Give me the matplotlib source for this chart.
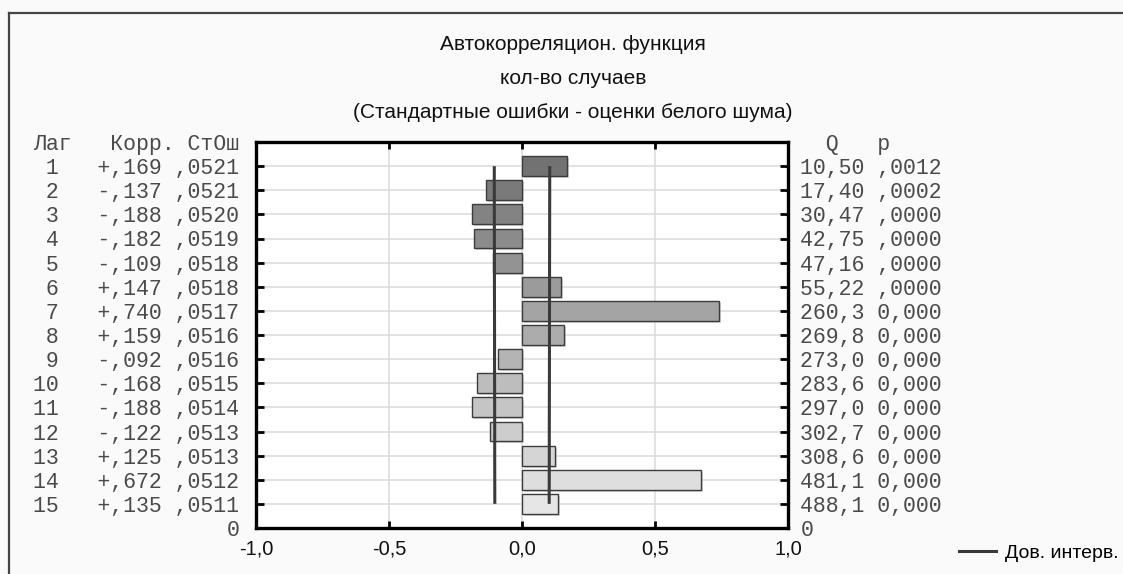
import matplotlib
matplotlib.use("Agg")
import matplotlib.pyplot as plt
import matplotlib.patheffects as pe
from matplotlib.lines import Line2D
import numpy as np

# Autocorrelation results per lag
lags = list(range(1, 16))
corr = [0.169, -0.137, -0.188, -0.182, -0.109, 0.147, 0.740, 0.159,
        -0.092, -0.168, -0.188, -0.122, 0.125, 0.672, 0.135]
std_err = [0.0521, 0.0521, 0.0520, 0.0519, 0.0518, 0.0518, 0.0517, 0.0516,
           0.0516, 0.0515, 0.0514, 0.0513, 0.0513, 0.0512, 0.0511]
q_stat = [10.50, 17.40, 30.47, 42.75, 47.16, 55.22, 260.3, 269.8,
          273.0, 283.6, 297.0, 302.7, 308.6, 481.1, 488.1]
p_labels = [",0012", ",0002", ",0000", ",0000", ",0000", ",0000", "0,000",
            "0,000", "0,000", "0,000", "0,000", "0,000", "0,000", "0,000", "0,000"]
x_ticks = [-1.0, -0.5, 0.0, 0.5, 1.0]
x_tick_labels = ["-1,0", "-0,5", "0,0", "0,5", "1,0"]
title_lines = ["Автокорреляцион. функция", "кол-во случаев",
               "(Стандартные ошибки - оценки белого шума)"]
left_header = "Лаг   Корр. СтОш"
right_header = "  Q   p"
legend_label = "Дов. интерв."


def fmt_corr(v):
    s = f"{abs(v):.3f}"[1:].replace(".", ",")
    return ("+" if v >= 0 else "-") + s


def fmt_se(v):
    return f"{v:.4f}"[1:].replace(".", ",")


def fmt_q(v):
    s = f"{v:.2f}" if v < 100 else f"{v:.1f}"
    return s.replace(".", ",")


W, H = 1123, 574
fig = plt.figure(figsize=(W / 100, H / 100), dpi=100, facecolor="#fafafa")

# outer frame (left and top edges)
fig.add_artist(Line2D([9 / W, 9 / W], [0, 1 - 13 / H], transform=fig.transFigure,
                      color="#444444", lw=1.6))
fig.add_artist(Line2D([9 / W, 1], [1 - 13 / H, 1 - 13 / H], transform=fig.transFigure,
                      color="#444444", lw=1.6))

ax_l, ax_r, ax_t, ax_b = 256, 788, 142, 528
ax = fig.add_axes([ax_l / W, 1 - ax_b / H, (ax_r - ax_l) / W, (ax_b - ax_t) / H])
ax.set_facecolor("white")

n = len(lags)
ypos = np.array([n + 1 - k for k in lags], dtype=float)

# bars, shaded from dark (first lag) to light (last lag)
shades = np.linspace(0x72, 0xe6, n) / 255.0
for y, c, g in zip(ypos, corr, shades):
    ax.barh(y, c, height=0.82, left=0, color=(g, g, g), edgecolor="#3c3c3c",
            linewidth=1.0, zorder=3,
            path_effects=[pe.SimplePatchShadow(offset=(1.5, -1.5), shadow_rgbFace="#b0b0b0",
                                               alpha=0.5),
                          pe.Normal()])

# confidence limits: +/- 2 standard errors
se = np.array(std_err)
ax.plot(-2 * se, ypos, color="#3a3a3a", lw=2.2, zorder=4, solid_capstyle="butt")
ax.plot(2 * se, ypos, color="#3a3a3a", lw=2.2, zorder=4, solid_capstyle="butt")

ax.set_xlim(-1, 1)
ax.set_ylim(0, n + 1)

# grid
for y in ypos:
    ax.axhline(y, color="#dddddd", lw=1.2, zorder=1)
for x in [-0.5, 0.0, 0.5]:
    ax.axvline(x, color="#dddddd", lw=1.2, zorder=1)

for s in ax.spines.values():
    s.set_linewidth(2.4)
    s.set_color("black")
    s.set_zorder(5)

mono = "Liberation Mono"
sans = "Liberation Sans"
table_color = "#4a4a4a"

# left table as y tick labels
left_labels = [left_header] + [f"{k:>2}   {fmt_corr(c)} {fmt_se(e)}"
                               for k, c, e in zip(lags, corr, std_err)] + ["0"]
ticks_y = [n + 1] + list(ypos) + [0]
ax.set_yticks(ticks_y)
ax.set_yticklabels(left_labels, fontfamily=mono, fontsize=15.5, color=table_color)
ax.tick_params(axis="y", direction="in", length=6, width=2, pad=12, left=True, right=False)

# right table on a twin axis
ax2 = ax.twinx()
ax2.set_ylim(0, n + 1)
right_labels = [right_header] + [f"{fmt_q(q)} {p}" for q, p in zip(q_stat, p_labels)] + ["0"]
ax2.set_yticks(ticks_y)
ax2.set_yticklabels(right_labels, fontfamily=mono, fontsize=15.5, color=table_color)
ax2.tick_params(axis="y", direction="in", length=6, width=2, pad=9)
for s in ax2.spines.values():
    s.set_visible(False)

ax.set_xticks(x_ticks)
ax.set_xticklabels(x_tick_labels, fontfamily=sans, fontsize=14.5, color="#111111")
ax.tick_params(axis="x", direction="in", length=5, width=2, pad=8, top=True, bottom=True)

# title
for i, line in enumerate(title_lines):
    fig.text(573 / W, 1 - (45 + 33.5 * i) / H, line, ha="center", va="center",
             fontfamily=sans, fontsize=15, color="#111111")

fig.legend(handles=[Line2D([], [], color="#3a3a3a", lw=2.2)], labels=[legend_label],
           loc="center left", bbox_to_anchor=(959 / W, 1 - 553 / H), frameon=False,
           prop={"family": sans, "size": 14}, handlelength=1.9, handletextpad=0.45,
           borderaxespad=0, borderpad=0)

fig.savefig("out.png", dpi=100, facecolor=fig.get_facecolor())
